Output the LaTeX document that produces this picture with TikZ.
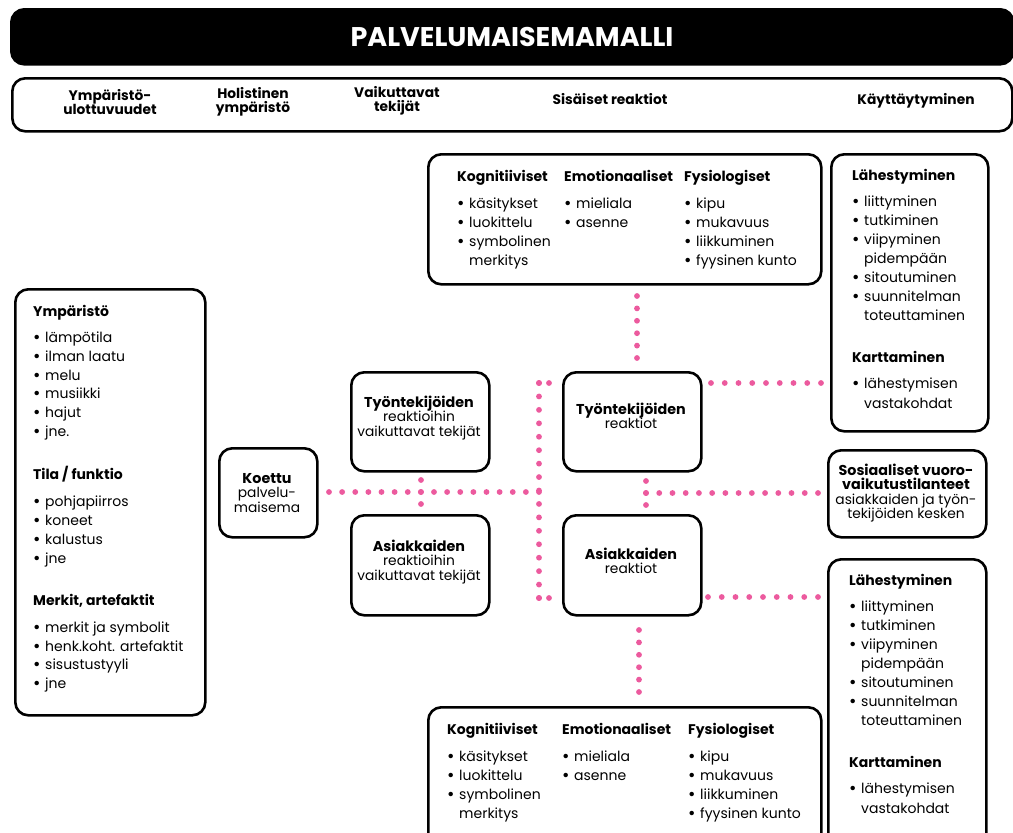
\documentclass[tikz,border=0pt]{standalone}
\usepackage{fontspec}
\setmainfont{Poppins}
\usetikzlibrary{calc}
\definecolor{dotpink}{HTML}{EC5A9E}
\newcommand\bu{\makebox[12pt][l]{\raisebox{-1.2pt}{\fontsize{18}{0}\selectfont\textbullet}}}
\newcommand\nb{\hspace*{12pt}}
\newcommand\bld[1]{{\fontsize{14.3}{15}\selectfont\bfseries #1}}
\newcommand\dotln[3]{\foreach \i in {0,...,#3} \fill[dotpink] ($(#1)!{\i/#3}!(#2)$) circle (2.9pt);}
\tikzset{
 box/.style={draw=black, line width=2.6pt, rounded corners=13pt, inner sep=0pt, anchor=north west},
 itm/.style={anchor=base west, inner sep=0pt, font=\fontsize{14}{16}\selectfont},
 hd/.style={anchor=base west, inner sep=0pt, font=\fontsize{14}{16}\selectfont\bfseries},
 ctr/.style={align=center, inner sep=0pt, font=\fontsize{13.8}{14.6}\selectfont},
 hdr/.style={align=center, inner sep=0pt, font=\fontsize{13.8}{14}\selectfont\bfseries}
}
\begin{document}
\begin{tikzpicture}[x=1pt,y=-1pt]
\useasboundingbox (0,0) rectangle (1013,833);
\clip (0,0) rectangle (1013,833);
% title and header
\node[box, fill=black, minimum width=1002pt, minimum height=55pt] (title) at (10,8) {};
\node[text=white, font=\fontsize{27}{30}\selectfont\bfseries] (titletext) at (512,37) {PALVELUMAISEMAMALLI};
\node[box, minimum width=1000pt, minimum height=53pt] (hdrbox) at (11,77) {};
\node[hdr] (h1) at (110,102) {Ympäristö-\\ulottuvuudet};
\node[hdr] (h2) at (253,102) {Holistinen\\ympäristö};
\node[hdr] (h3) at (397,101) {Vaikuttavat\\tekijät};
\node[hdr] (h4) at (610,99) {Sisäiset reaktiot};
\node[hdr] (h5) at (916,101) {Käyttäytyminen};
% boxes
\node[box, minimum width=393pt, minimum height=130pt] (T) at (427,153) {};
\node[box, minimum width=157pt, minimum height=277pt] (RT) at (830,153) {};
\node[box, minimum width=190pt, minimum height=426pt] (L) at (14,288) {};
\node[box, minimum width=98pt, minimum height=89pt] (K) at (218,447) {};
\node[box, minimum width=138pt, minimum height=99pt] (TR) at (350,371) {};
\node[box, minimum width=138pt, minimum height=100pt] (AR) at (350,514) {};
\node[box, minimum width=138pt, minimum height=99pt] (TRe) at (562,371) {};
\node[box, minimum width=138pt, minimum height=100pt] (ARe) at (562,514) {};
\node[box, minimum width=158pt, minimum height=87pt] (Sos) at (827,449) {};
\node[box, minimum width=158pt, minimum height=292pt] (RB) at (827,558) {};
\node[box, minimum width=393pt, minimum height=144pt] (B) at (427,706) {};
% centred texts
\node[ctr] (Kt) at (267,493) {\bld{Koettu}\\palvelu-\\maisema};
\node[ctr] (TRt) at (419,418) {\bld{Työntekijöiden}\\reaktioihin\\vaikuttavat tekijät};
\node[ctr] (ARt) at (419,562) {\bld{Asiakkaiden}\\reaktioihin\\vaikuttavat tekijät};
\node[ctr] (TRet) at (631,416) {\bld{Työntekijöiden}\\reaktiot};
\node[ctr] (ARet) at (631,561) {\bld{Asiakkaiden}\\reaktiot};
\node[ctr] (Sost) at (906,493) {\bld{Sosiaaliset vuoro-}\\\bld{vaikutustilanteet}\\asiakkaiden ja työn-\\tekijöiden kesken};
% left box
\node[hd] (Lh1) at (33,316) {Ympäristö};
\foreach \y/\t in {337/lämpötila, 356/ilman laatu, 375/melu, 393/musiikki, 412/hajut, 431/jne.}
  \node[itm] (La\y) at (33,{\y+5}) {\bu\t};
\node[hd] (Lh2) at (33,479) {Tila / funktio};
\foreach \y/\t in {501/pohjapiirros, 520/koneet, 539/kalustus, 558/jne}
  \node[itm] (Lb\y) at (33,{\y+5}) {\bu\t};
\node[hd] (Lh3) at (33,605) {Merkit, artefaktit};
\foreach \y/\t in {627/merkit ja symbolit, 646/henk.koht. artefaktit, 664/sisustustyyli, 683/jne}
  \node[itm] (Lc\y) at (33,{\y+5}) {\bu\t};
% top box
\node[hd] (Th1) at (457,181) {Kognitiiviset};
\node[hd] (Th2) at (564,181) {Emotionaaliset};
\node[hd] (Th3) at (684,181) {Fysiologiset};
\foreach \y/\t in {203/\bu käsitykset, 222/\bu luokittelu, 241/\bu symbolinen, 260/\nb merkitys}
  \node[itm] (Ta\y) at (457,{\y+5}) {\t};
\foreach \y/\t in {203/\bu mieliala, 222/\bu asenne}
  \node[itm] (Tb\y) at (564,{\y+5}) {\t};
\foreach \y/\t in {203/\bu kipu, 222/\bu mukavuus, 241/\bu liikkuminen, 260/\bu fyysinen kunto}
  \node[itm] (Tc\y) at (684,{\y+5}) {\t};
% bottom box
\node[hd] (Bh1) at (447,734) {Kognitiiviset};
\node[hd] (Bh2) at (562,734) {Emotionaaliset};
\node[hd] (Bh3) at (688,734) {Fysiologiset};
\foreach \y/\t in {756/\bu käsitykset, 775/\bu luokittelu, 794/\bu symbolinen, 813/\nb merkitys}
  \node[itm] (Ba\y) at (447,{\y+5}) {\t};
\foreach \y/\t in {756/\bu mieliala, 775/\bu asenne}
  \node[itm] (Bb\y) at (562,{\y+5}) {\t};
\foreach \y/\t in {756/\bu kipu, 775/\bu mukavuus, 794/\bu liikkuminen, 813/\bu fyysinen kunto}
  \node[itm] (Bc\y) at (688,{\y+5}) {\t};
% right top box
\node[hd] (RTh1) at (852,180) {Lähestyminen};
\foreach \y/\t in {201/\bu liittyminen, 220/\bu tutkiminen, 239/\bu viipyminen, 258/\nb pidempään, 277/\bu sitoutuminen, 296/\bu suunnitelman, 315/\nb toteuttaminen}
  \node[itm] (RTa\y) at (852,{\y+5}) {\t};
\node[hd] (RTh2) at (852,362) {Karttaminen};
\foreach \y/\t in {383/\bu lähestymisen, 403/\nb vastakohdat}
  \node[itm] (RTb\y) at (852,{\y+5}) {\t};
% right bottom box
\node[hd] (RBh1) at (849,585) {Lähestyminen};
\foreach \y/\t in {606/\bu liittyminen, 625/\bu tutkiminen, 644/\bu viipyminen, 663/\nb pidempään, 682/\bu sitoutuminen, 701/\bu suunnitelman, 720/\nb toteuttaminen}
  \node[itm] (RBa\y) at (849,{\y+5}) {\t};
\node[hd] (RBh2) at (849,767) {Karttaminen};
\foreach \y/\t in {788/\bu lähestymisen, 808/\nb vastakohdat}
  \node[itm] (RBb\y) at (849,{\y+5}) {\t};
% dotted connectors
\coordinate (d1a) at (637,296); \coordinate (d1b) at (637,358);
\coordinate (d2a) at (711,383); \coordinate (d2b) at (821,383);
\coordinate (d3a) at (329,492); \coordinate (d3b) at (539,492);
\coordinate (d3c) at (421,480); \coordinate (d3d) at (421,504);
\coordinate (d4a) at (549,383); \coordinate (d4b) at (539,383);
\coordinate (d4c) at (539,598); \coordinate (d4d) at (549,598);
\coordinate (d5a) at (646,481); \coordinate (d5b) at (646,505);
\coordinate (d5c) at (646,493); \coordinate (d5d) at (818,493);
\coordinate (d6a) at (708,597); \coordinate (d6b) at (818,597);
\coordinate (d7a) at (639,630); \coordinate (d7b) at (639,692);
\dotln{d1a}{d1b}{5}
\dotln{d2a}{d2b}{8}
\dotln{d3a}{d3b}{16}
\dotln{d3c}{d3d}{2}
\dotln{d4a}{d4b}{1}
\dotln{d4b}{d4c}{16}
\dotln{d4c}{d4d}{1}
\dotln{d5a}{d5b}{2}
\dotln{d5c}{d5d}{13}
\dotln{d6a}{d6b}{8}
\dotln{d7a}{d7b}{5}
\end{tikzpicture}
\end{document}
